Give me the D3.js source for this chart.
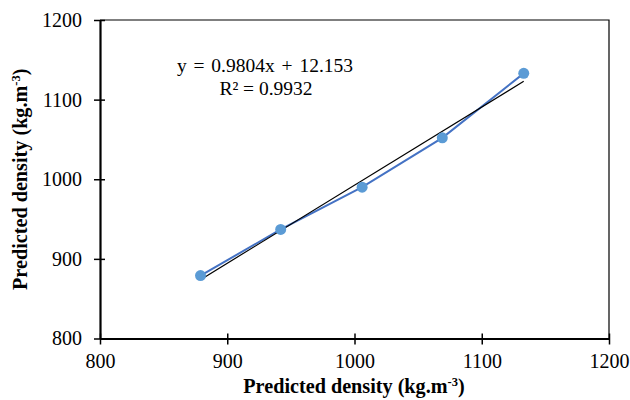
<!DOCTYPE html>
<html>
<head>
  <title>Predicted density</title>
  <script src="https://d3js.org/d3.v7.min.js"></script>
  <style>
    body { margin: 0; background: white; }
    svg, svg text { font-family: "Liberation Serif", "Times New Roman", serif; }
    .axis-title { font-size: 20.2px; font-weight: bold; fill: #000; }
    .eq { font-size: 19.5px; fill: #000; }
  </style>
</head>
<body>
<div id="chart"></div>
<script>
  // data
  const xVals = [879, 942, 1006, 1069, 1133];
  const yVals = [879, 937, 990, 1052, 1133];
  const ticks = [800, 900, 1000, 1100, 1200];
  const slope = 0.9804, intercept = 12.153;
  const serif = '"Liberation Serif", "Times New Roman", serif';

  const margin = {top: 20, right: 21, bottom: 61.5, left: 100},
    W = 630, H = 400,
    width = W - margin.left - margin.right,
    height = H - margin.top - margin.bottom;

  const svg = d3.select("#chart").append("svg")
    .attr("width", W)
    .attr("height", H);
  const g = svg.append("g")
    .attr("transform", `translate(${margin.left},${margin.top})`);

  const x = d3.scaleLinear().domain([800, 1200]).range([0, width]);
  const y = d3.scaleLinear().domain([800, 1200]).range([height, 0]);

  // top and right frame
  g.append("path")
    .attr("d", `M0,0H${width}V${height}`)
    .attr("fill", "none").attr("stroke", "#000").attr("stroke-width", 1.2);

  // axes, ticks cross the axis line
  const xAxis = g.append("g")
    .attr("transform", `translate(0,${height})`)
    .call(d3.axisBottom(x).tickValues(ticks).tickFormat(d3.format("d")).tickSize(0).tickPadding(15));
  xAxis.select(".domain").attr("stroke-width", 2.2);
  xAxis.selectAll(".tick").append("line")
    .attr("y1", -5).attr("y2", 6).attr("stroke", "#000").attr("stroke-width", 1.5);
  xAxis.selectAll(".tick text")
    .style("font-family", serif).style("font-size", "20px").style("fill", "#000");

  const yAxis = g.append("g")
    .call(d3.axisLeft(y).tickValues(ticks).tickFormat(d3.format("d")).tickSize(0).tickPadding(18));
  yAxis.select(".domain").attr("stroke-width", 2.2);
  yAxis.selectAll(".tick").append("line")
    .attr("x1", -6).attr("x2", 5).attr("stroke", "#000").attr("stroke-width", 1.5);
  yAxis.selectAll(".tick text")
    .style("font-family", serif).style("font-size", "20px").style("fill", "#000");

  // data line and markers
  const pts = xVals.map((v, i) => [v, yVals[i]]);
  g.append("path")
    .datum(pts)
    .attr("fill", "none")
    .attr("stroke", "#4472C4")
    .attr("stroke-width", 2)
    .attr("d", d3.line().x(d => x(d[0])).y(d => y(d[1])));

  // linear trendline
  const xr = d3.extent(xVals);
  g.append("line")
    .attr("x1", x(xr[0])).attr("y1", y(slope * xr[0] + intercept))
    .attr("x2", x(xr[1])).attr("y2", y(slope * xr[1] + intercept))
    .attr("stroke", "#000").attr("stroke-width", 1.2);

  g.selectAll(".dot")
    .data(pts)
    .join("circle")
    .attr("class", "dot")
    .attr("cx", d => x(d[0]))
    .attr("cy", d => y(d[1]))
    .attr("r", 5.5)
    .attr("fill", "#5B9BD5");

  // equation
  g.append("text").attr("class", "eq")
    .attr("x", 165).attr("y", 52).attr("text-anchor", "middle")
    .attr("word-spacing", "2px")
    .text("y = 0.9804x + 12.153");
  g.append("text").attr("class", "eq")
    .attr("x", 166).attr("y", 75).attr("text-anchor", "middle")
    .text("R² = 0.9932");

  // axis titles
  const xt = svg.append("text").attr("class", "axis-title")
    .attr("x", 354).attr("y", 393).attr("text-anchor", "middle");
  xt.append("tspan").text("Predicted density (kg.m");
  xt.append("tspan").attr("font-size", "12.5px").attr("dy", -7).text("-3");
  xt.append("tspan").attr("dy", 7).text(")");

  const yt = svg.append("text").attr("class", "axis-title")
    .attr("transform", `translate(27,${margin.top + height / 2}) rotate(-90)`)
    .attr("text-anchor", "middle");
  yt.append("tspan").text("Predicted density (kg.m");
  yt.append("tspan").attr("font-size", "12.5px").attr("dy", -7).text("-3");
  yt.append("tspan").attr("dy", 7).text(")");
</script>
</body>
</html>
